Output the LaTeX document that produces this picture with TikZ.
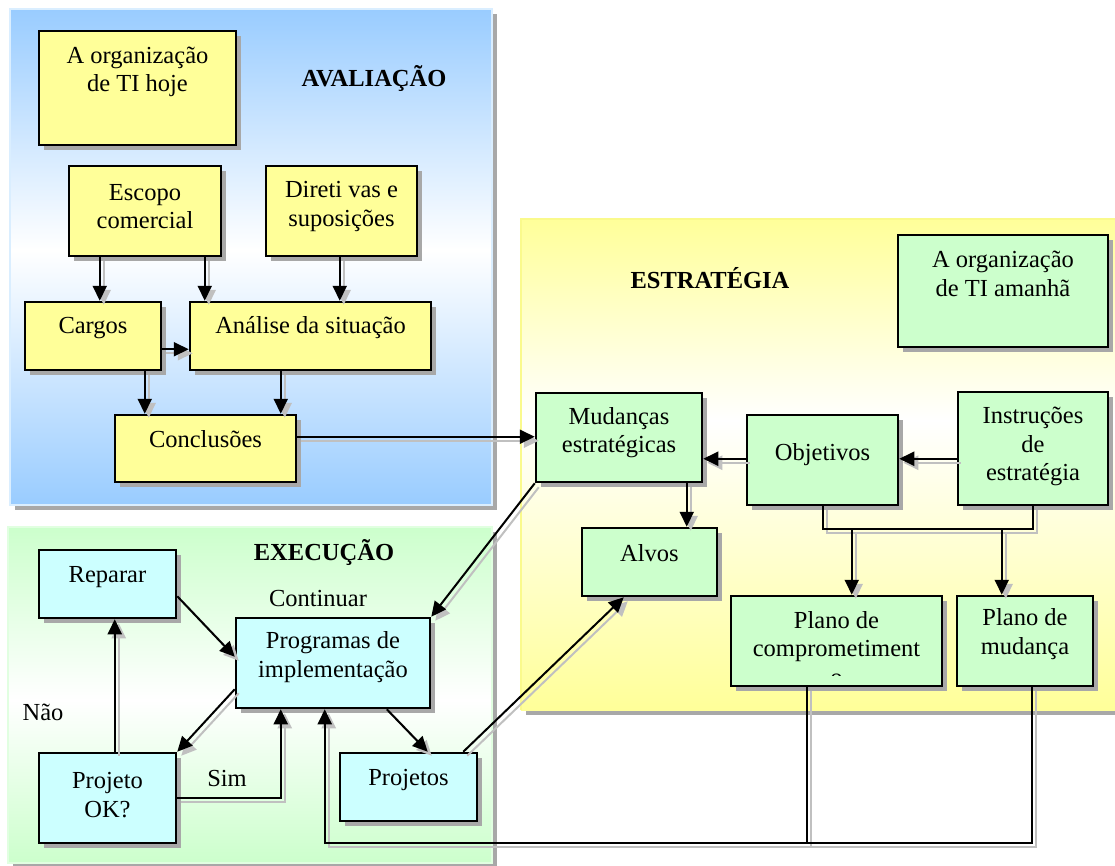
\documentclass[tikz,border=0pt]{standalone}
\usepackage{fontspec}
\setmainfont{Liberation Serif}
\usetikzlibrary{arrows.meta,shadows}

\definecolor{panelblue}{RGB}{153,204,255}
\definecolor{panelyellow}{RGB}{255,255,153}
\definecolor{panelgreen}{RGB}{204,255,204}
\definecolor{edgeblue}{RGB}{218,238,255}
\definecolor{edgeyellow}{RGB}{250,250,140}
\definecolor{edgegreen}{RGB}{225,255,225}
\definecolor{boxyellow}{RGB}{255,255,153}
\definecolor{boxgreen}{RGB}{204,255,204}
\definecolor{boxcyan}{RGB}{204,255,255}
\definecolor{shadowgray}{RGB}{168,168,168}
\definecolor{wiregray}{RGB}{192,192,192}

\tikzset{
  box/.style={rectangle, draw=black, line width=2.5pt, inner sep=0pt,
    drop shadow={shadow xshift=5pt, shadow yshift=-5pt, fill=shadowgray, opacity=1}},
  ybox/.style={box, fill=boxyellow},
  gbox/.style={box, fill=boxgreen},
  cbox/.style={box, fill=boxcyan},
  txt/.style={inner sep=0pt, align=center, font=\fontsize{24.5}{28.5}\selectfont},
  head/.style={inner sep=0pt, font=\fontsize{24.5}{28.5}\selectfont\bfseries},
  wire/.style={draw=black, line width=2pt},
  wireshadow/.style={draw=wiregray, line width=2pt},
  tip/.style={-{Triangle[length=15pt,width=14pt]}},
}

% connector with its offset grey shadow
\newcommand\conn[2][]{%
  \draw[wireshadow,#1,transform canvas={shift={(4pt,-4pt)}}] #2;
  \draw[wire,#1] #2;}

\begin{document}
\begin{tikzpicture}[x=1pt,y=-1pt]
\useasboundingbox (0,0) rectangle (1115,865);
\fill[white] (0,0) rectangle (1115,865);

% ---------- panels ----------
% AVALIACAO
\fill[shadowgray] (15,14) rectangle (497,510);
\shade[top color=panelblue, bottom color=white] (10,9) rectangle (492,250);
\shade[top color=white, bottom color=panelblue] (10,250) rectangle (492,505);
\draw[edgeblue, line width=2.5pt] (10,9) rectangle (492,505);
% ESTRATEGIA
\fill[shadowgray] (526,224) rectangle (1125,715);
\shade[top color=panelyellow, bottom color=white] (521,219) rectangle (1120,420);
\shade[top color=white, bottom color=panelyellow] (521,420) rectangle (1120,710);
\draw[edgeyellow, line width=2pt] (521,710) -- (521,219) -- (1120,219);
% EXECUCAO
\fill[shadowgray] (13,532) rectangle (497,870);
\shade[top color=panelgreen, bottom color=white] (8,527) rectangle (492,700);
\shade[top color=white, bottom color=panelgreen] (8,700) rectangle (492,863);
\draw[edgegreen, line width=2pt] (8,527) rectangle (492,863);

% ---------- boxes ----------
\node[ybox, minimum width=197, minimum height=114] (hoje)   at (137.5,88)  {};
\node[ybox, minimum width=152, minimum height=90]  (escopo) at (145,211)   {};
\node[ybox, minimum width=151, minimum height=90]  (diret)  at (341.5,211) {};
\node[ybox, minimum width=136, minimum height=68]  (cargos) at (93,336)    {};
\node[ybox, minimum width=241, minimum height=68]  (analise) at (310.5,336) {};
\node[ybox, minimum width=181, minimum height=67]  (concl)  at (205.5,448.5) {};

\node[gbox, minimum width=210, minimum height=112] (amanha) at (1003,291)  {};
\node[gbox, minimum width=166, minimum height=89]  (mud)    at (619,437.5) {};
\node[gbox, minimum width=151, minimum height=90]  (obj)    at (822.5,460) {};
\node[gbox, minimum width=150, minimum height=113] (instr)  at (1033,448.5) {};
\node[gbox, minimum width=135, minimum height=68]  (alvos)  at (649.5,562) {};
\node[gbox, minimum width=211, minimum height=90]  (plcomp) at (836.5,641) {};
\node[gbox, minimum width=136, minimum height=90]  (plmud)  at (1025,641)  {};

\node[cbox, minimum width=137, minimum height=68]  (reparar)  at (107.5,584) {};
\node[cbox, minimum width=194, minimum height=90]  (prog)     at (333,663)   {};
\node[cbox, minimum width=137, minimum height=90]  (projok)   at (107.5,798) {};
\node[cbox, minimum width=137, minimum height=68]  (projetos) at (408.5,787) {};

% ---------- box texts ----------
\node[txt] (hoje-t)    at (137.5,72)  {A organização\\de TI hoje};
\node[txt] (escopo-t)  at (145,206.5) {Escopo\\comercial};
\node[txt] (diret-t)   at (341.5,206.5) {Direti vas e\\suposições};
\node[txt] (cargos-t)  at (93,328)    {Cargos};
\node[txt] (analise-t) at (310.5,328) {Análise da situação};
\node[txt] (concl-t)   at (205.5,439) {Conclusões};

\node[txt] (amanha-t)  at (1003,274)  {A organização\\de TI amanhã};
\node[txt] (mud-t)     at (619,432.5) {Mudanças\\estratégicas};
\node[txt] (obj-t)     at (822.5,455) {Objetivos};
\node[txt] (instr-t)   at (1033,446.5) {Instruções\\de\\estratégia};
\node[txt] (alvos-t)   at (649.5,553) {Alvos};
\begin{scope}
  \clip (plcomp.north west) rectangle ([yshift=12]plcomp.south east);
  \node[txt] (plcomp-t) at (836.5,648.5) {Plano de\\comprometiment\\o};
\end{scope}
\node[txt] (plmud-t)   at (1025,634)  {Plano de\\mudança};

\node[txt] (reparar-t)  at (107.5,577) {Reparar};
\node[txt] (prog-t)     at (333,657)   {Programas de\\implementação};
\node[txt] (projok-t)   at (107.5,795) {Projeto\\OK?};
\node[txt] (projetos-t) at (408.5,780) {Projetos};

% ---------- headings and labels ----------
\node[head] (aval-h) at (374,78)  {AVALIAÇÃO};
\node[head] (estr-h) at (710,278) {ESTRATÉGIA};
\node[head] (exec-h) at (324,552) {EXECUÇÃO};
\node[txt] (cont-l) at (318,598) {Continuar};
\node[txt] (nao-l)  at (43,712)  {Não};
\node[txt] (sim-l)  at (227,778) {Sim};

% ---------- connector points ----------
\coordinate (e1) at ([xshift=32]escopo.south west);
\coordinate (e2) at ([xshift=137]escopo.south west);
\coordinate (d1) at ([xshift=75]diret.south west);
\coordinate (g1) at ([yshift=22]cargos.south east);
\coordinate (g2) at ([xshift=121]cargos.south west);
\coordinate (a1) at ([xshift=92]analise.south west);
\coordinate (k1) at ([yshift=-23]concl.north east);
\coordinate (o1) at ([yshift=-45]obj.north west);
\coordinate (i1) at ([yshift=-68]instr.north west);
\coordinate (m1) at ([xshift=152]mud.south west);
\coordinate (bus) at ([yshift=-23]obj.south);
\coordinate (pc-in) at ([xshift=122]plcomp.north west);
\coordinate (pm-in) at ([xshift=46]plmud.north west);
\coordinate (pc-out) at ([xshift=77]plcomp.south west);
\coordinate (pm-out) at ([xshift=76]plmud.south west);
\coordinate (ret) at ([yshift=-156]pm-out);
\coordinate (pr-in) at ([xshift=90]prog.south west);
\coordinate (pj-out) at ([xshift=-15]projetos.north east);
\coordinate (al-in) at ([xshift=43]alvos.south west);
\coordinate (pr-out) at ([xshift=152]prog.south west);
\coordinate (pj-in) at ([xshift=89]projetos.north west);
\coordinate (rp-out) at ([yshift=23]reparar.south east);
\coordinate (pr-l1) at ([yshift=-40]prog.north west);
\coordinate (pr-l2) at ([yshift=20]prog.south west);
\coordinate (ok-up) at ([xshift=77]projok.north west);
\coordinate (ok-r) at ([yshift=46]projok.south east);
\coordinate (pr-b) at ([xshift=46]prog.south west);

% ---------- connectors ----------
\conn[tip]{(e1) -- (e1 |- cargos.north)}
\conn[tip]{(e2) -- (e2 |- analise.north)}
\conn[tip]{(d1) -- (d1 |- analise.north)}
\conn[tip]{(g1) -- (g1 -| analise.west)}
\conn[tip]{(g2) -- (g2 |- concl.north)}
\conn[tip]{(a1) -- (a1 |- concl.north)}
\conn[tip]{(k1) -- (k1 -| mud.west)}
\conn[tip]{(o1) -- (o1 -| mud.east)}
\conn[tip]{(i1) -- (i1 -| obj.east)}
\conn[tip]{(m1) -- (m1 |- alvos.north)}
\conn{(obj.south) -- (bus) -| (instr.south)}
\conn[tip]{(pc-in |- bus) -- (pc-in)}
\conn[tip]{(pm-in |- bus) -- (pm-in)}
\conn{(pc-out) -- (pc-out |- ret)}
\conn[tip]{(pm-out) -- (ret) -| (pr-in)}
\conn[tip]{(mud.south west) -- (prog.north east)}
\conn[tip]{(pj-out) -- (al-in)}
\conn[tip]{(pr-out) -- (pj-in)}
\conn[tip]{(rp-out) -- (pr-l1)}
\conn[tip]{(pr-l2) -- (projok.north east)}
\conn[tip]{(ok-up) -- (ok-up |- reparar.south)}
\conn[tip]{(ok-r) -| (pr-b)}
\end{tikzpicture}
\end{document}
